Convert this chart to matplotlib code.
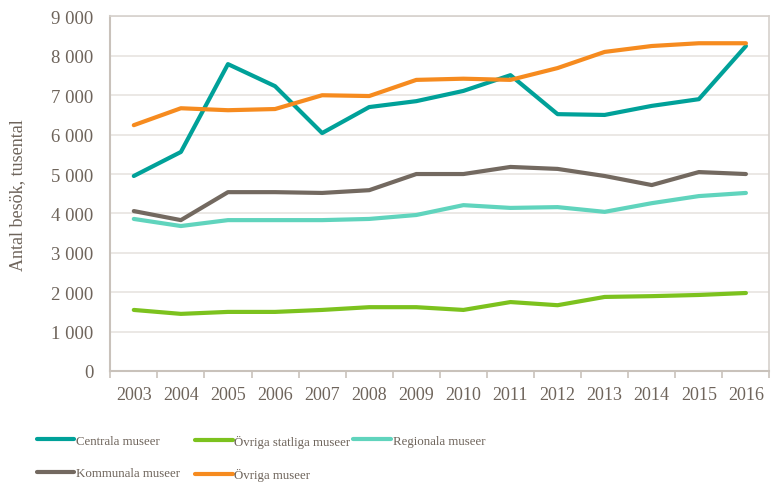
import matplotlib
matplotlib.use('Agg')
import matplotlib.pyplot as plt
import numpy as np

years = ['2003', '2004', '2005', '2006', '2007', '2008', '2009',
         '2010', '2011', '2012', '2013', '2014', '2015', '2016']

centrala = [4950, 5560, 7790, 7230, 6040, 6700, 6850, 7110, 7510, 6520, 6500, 6730, 6900, 8250]
ovriga_statliga = [1550, 1450, 1500, 1500, 1550, 1620, 1620, 1550, 1750, 1670, 1880, 1900, 1930, 1980]
regionala = [3860, 3680, 3830, 3830, 3830, 3860, 3960, 4210, 4140, 4160, 4040, 4260, 4440, 4520]
kommunala = [4060, 3830, 4540, 4540, 4520, 4590, 5000, 5000, 5180, 5130, 4950, 4720, 5050, 5000]
ovriga = [6240, 6670, 6620, 6650, 7000, 6980, 7390, 7420, 7390, 7690, 8100, 8250, 8320, 8320]

yticks = [0, 1000, 2000, 3000, 4000, 5000, 6000, 7000, 8000, 9000]

txt = '#6e645b'
plt.rcParams['font.family'] = ['Liberation Serif', 'DejaVu Serif']
plt.rcParams['font.size'] = 13

fig = plt.figure(figsize=(7.71, 4.85), dpi=100)
ax = fig.add_axes([0.143, 0.233, 0.855, 0.731])

x = np.arange(len(years))
series = [
    ('Centrala museer', centrala, '#00a199'),
    ('Övriga statliga museer', ovriga_statliga, '#7cc21e'),
    ('Regionala museer', regionala, '#60d4bd'),
    ('Kommunala museer', kommunala, '#736960'),
    ('Övriga museer', ovriga, '#f68b1f'),
]
lines = {}
for name, vals, col in series:
    l, = ax.plot(x, vals, color=col, lw=3, label=name, solid_capstyle='round')
    lines[name] = l

ax.set_xlim(-0.5, len(years) - 0.5)
ax.set_ylim(0, 9000)
ax.set_yticks(yticks)
ax.set_yticklabels(['{:,}'.format(v).replace(',', ' ') for v in yticks])
ax.set_xticks(x)
ax.set_xticklabels(years)
ax.set_xticks(np.arange(-0.5, len(years), 1.0), minor=True)
ax.tick_params(axis='x', which='major', length=0, pad=11, colors=txt, labelsize=13)
ax.tick_params(axis='x', which='minor', length=5, width=1.2, color='#c9c2bb', direction='out')
ax.tick_params(axis='y', length=0, pad=12, colors=txt, labelsize=13.5)
ax.grid(axis='y', color='#e8e4e0', lw=1.2)
ax.set_axisbelow(True)
for s in ['top', 'right']:
    ax.spines[s].set_color('#d6d1cc')
    ax.spines[s].set_linewidth(1.2)
for s in ['left', 'bottom']:
    ax.spines[s].set_color('#c9c2bb')
    ax.spines[s].set_linewidth(1.5)
ax.set_ylabel('Antal besök, tusental', color=txt, labelpad=18, fontsize=13)

# three legend columns placed at fixed x positions
cols = [(['Centrala museer', 'Kommunala museer'], 0.048),
        (['Övriga statliga museer', 'Övriga museer'], 0.253),
        (['Regionala museer'], 0.458)]
for names, xpos in cols:
    leg = fig.legend([lines[n] for n in names], names, loc='upper left',
                     bbox_to_anchor=(xpos, 0.102), frameon=False, handlelength=2.9,
                     handletextpad=0.15, labelspacing=1.6, fontsize=9.3,
                     borderaxespad=0, borderpad=0)
    for t in leg.get_texts():
        t.set_color(txt)

fig.savefig('out.png', dpi=100)
